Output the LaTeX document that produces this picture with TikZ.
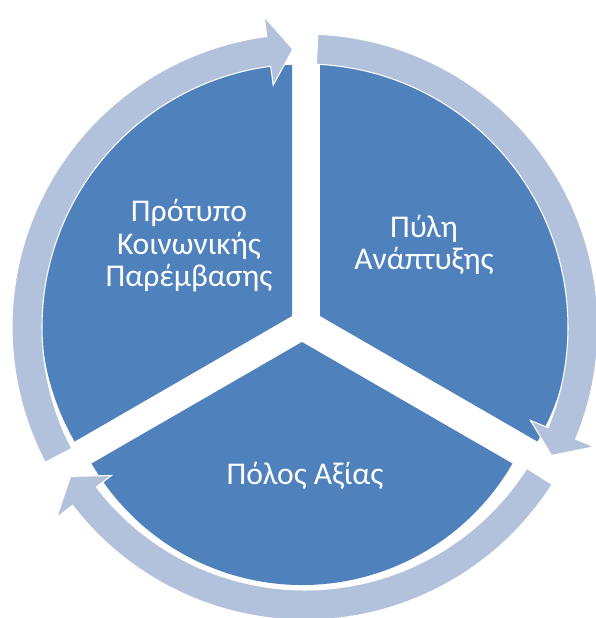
\documentclass[tikz,border=0pt]{standalone}
\usepackage{fontspec}
\setmainfont{Carlito}
\usetikzlibrary{calc}
\definecolor{segblue}{HTML}{4F81BD}
\definecolor{ringblue}{HTML}{B3C2DC}
\tikzset{
    sector/.style={fill=segblue},
    ringarrow/.style={fill=ringblue, draw=white, line width=0.6pt, line join=miter},
    seglabel/.style={text=white, align=center, font=\fontsize{18}{18.5}\selectfont}
}

\begin{document}
\begin{tikzpicture}[x=0.02cm,y=0.02cm]
\useasboundingbox (-305,-293) rectangle (290,325); % page frame
\coordinate (O) at (0,0); % middle of the cycle
\coordinate (LA) at (-13,9); % apex left sector
\coordinate (RA) at (15,9); % apex right sector
\coordinate (BA) at (-3,-17); % apex bottom sector

%%% SECTORS %%%
\fill[sector] (LA) -- ++(90:251) arc [start angle=90, end angle=210, radius=251] -- cycle; % left sector
\fill[sector] (RA) -- ++(-30:251) arc [start angle=-30, end angle=90, radius=251] -- cycle; % right sector
\fill[sector] (BA) -- ++(210:243) arc [start angle=210, end angle=330, radius=243] -- cycle; % bottom sector

%%% RING ARROWS %%%
\begin{scope}[shift={(0,-2)}]
\draw[ringarrow] (207.5:293) arc [start angle=207.5, end angle=97.5, radius=293] -- (97.5:313) -- (92.5:278) -- (97.5:244) -- (97.5:263) arc [start angle=97.5, end angle=207.5, radius=263] -- cycle; % left arrow
\draw[ringarrow] (87.5:293) arc [start angle=87.5, end angle=-22.5, radius=293] -- (-22.5:313) -- (-27.5:278) -- (-22.5:244) -- (-22.5:263) arc [start angle=-22.5, end angle=87.5, radius=263] -- cycle; % right arrow
\draw[ringarrow] (-32.5:293) arc [start angle=-32.5, end angle=-142.5, radius=293] -- (-142.5:313) -- (-147.5:278) -- (-142.5:244) -- (-142.5:263) arc [start angle=-142.5, end angle=-32.5, radius=263] -- cycle; % bottom arrow
\end{scope}

%%% TEXTS %%%
\node[seglabel] (model) at (-116,79) {Πρότυπο\\Κοινωνικής\\Παρέμβασης};
\node[seglabel] (gate) at (119,80) {Πύλη\\Ανάπτυξης};
\node[seglabel] (pole) at (0,-151) {Πόλος Αξίας};
\end{tikzpicture}
\end{document}
